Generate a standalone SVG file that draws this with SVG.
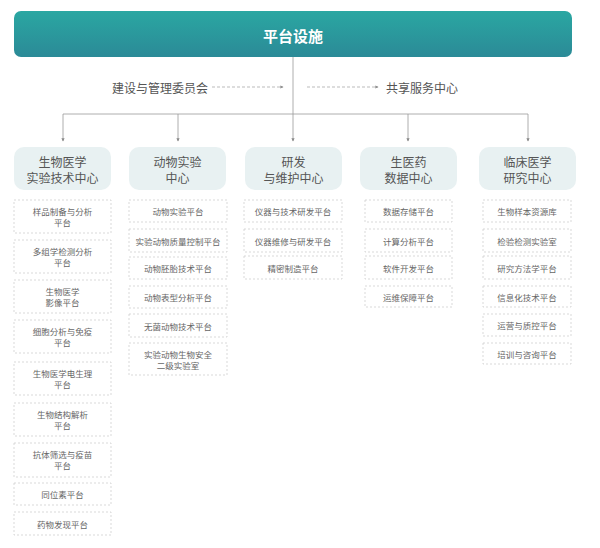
<svg xmlns="http://www.w3.org/2000/svg" width="600" height="548" viewBox="0 0 600 548">
<defs>
<linearGradient id="g" x1="0" y1="0" x2="0" y2="1">
<stop offset="0" stop-color="#2aa7a2"/>
<stop offset="1" stop-color="#2b8a97"/>
</linearGradient>
<marker id="ah" viewBox="0 0 6 6" refX="5" refY="3" markerWidth="4" markerHeight="4" orient="auto">
<path d="M0,0 L6,3 L0,6 z" fill="#888"/>
</marker>
</defs>
<style>
text{font-family:"Noto Sans CJK SC","Noto Sans",sans-serif;text-anchor:middle;dominant-baseline:central}
.title{fill:#fff;font-size:15px;font-weight:bold}
.side{fill:#555;font-size:12px}
.hd rect{fill:#e8f1f2;stroke:none}
.hd text{fill:#555;font-size:12px}
.sub rect{fill:#fff;stroke:#cfcfcf;stroke-width:0.8;stroke-dasharray:2 2}
.sub text{fill:#666;font-size:8.5px}
.ln{fill:none;stroke:#999;stroke-width:0.8}
.dl{fill:none;stroke:#aaa;stroke-width:0.8;stroke-dasharray:3 2}
</style>
<rect width="600" height="548" fill="#fff"/>
<g id="root"><rect x="14" y="11" width="558" height="46" rx="7" fill="url(#g)"/><text class="title" x="293" y="35">平台设施</text></g>
<g id="committee"><text class="side" x="160" y="87">建设与管理委员会</text></g>
<g id="shared"><text class="side" x="422" y="87">共享服务中心</text></g>
<g id="connectors">
<path class="ln" d="M293,57 V114 M63,114 H528"/>
<path class="ln" d="M63,114 V141" marker-end="url(#ah)"/>
<path class="ln" d="M178,114 V141" marker-end="url(#ah)"/>
<path class="ln" d="M293,114 V141" marker-end="url(#ah)"/>
<path class="ln" d="M408,114 V141" marker-end="url(#ah)"/>
<path class="ln" d="M528,114 V141" marker-end="url(#ah)"/>
<path class="dl" d="M212,87 H283" marker-end="url(#ah)"/>
<path class="dl" d="M307,87 H378" marker-end="url(#ah)"/>
</g>
<g id="h1" class="hd"><rect x="14" y="147" width="97" height="43" rx="10"/><text x="62.5" y="161">生物医学</text><text x="62.5" y="177">实验技术中心</text></g>
<g id="h2" class="hd"><rect x="129" y="147" width="97" height="43" rx="10"/><text x="177.5" y="161">动物实验</text><text x="177.5" y="177">中心</text></g>
<g id="h3" class="hd"><rect x="245" y="147" width="97" height="43" rx="10"/><text x="293.5" y="161">研发</text><text x="293.5" y="177">与维护中心</text></g>
<g id="h4" class="hd"><rect x="360" y="147" width="97" height="43" rx="10"/><text x="408.5" y="161">生医药</text><text x="408.5" y="177">数据中心</text></g>
<g id="h5" class="hd"><rect x="479" y="147" width="97" height="43" rx="10"/><text x="527.5" y="161">临床医学</text><text x="527.5" y="177">研究中心</text></g>

<g id="c1a" class="sub"><rect x="14" y="200" width="97" height="33"/><text x="62.5" y="211">样品制备与分析</text><text x="62.5" y="222">平台</text></g>
<g id="c1b" class="sub"><rect x="14" y="240" width="97" height="33"/><text x="62.5" y="251">多组学检测分析</text><text x="62.5" y="262">平台</text></g>
<g id="c1c" class="sub"><rect x="14" y="280" width="97" height="33"/><text x="62.5" y="291">生物医学</text><text x="62.5" y="302">影像平台</text></g>
<g id="c1d" class="sub"><rect x="14" y="320" width="97" height="33"/><text x="62.5" y="331">细胞分析与免疫</text><text x="62.5" y="342">平台</text></g>
<g id="c1e" class="sub"><rect x="14" y="362" width="97" height="33"/><text x="62.5" y="373">生物医学电生理</text><text x="62.5" y="384">平台</text></g>
<g id="c1f" class="sub"><rect x="14" y="403" width="97" height="33"/><text x="62.5" y="414">生物结构解析</text><text x="62.5" y="425">平台</text></g>
<g id="c1g" class="sub"><rect x="14" y="443" width="97" height="34"/><text x="62.5" y="454">抗体筛选与疫苗</text><text x="62.5" y="465">平台</text></g>
<g id="c1h" class="sub"><rect x="14" y="483" width="97" height="22"/><text x="62.5" y="494">同位素平台</text></g>
<g id="c1i" class="sub"><rect x="14" y="512" width="97" height="23"/><text x="62.5" y="523.5">药物发现平台</text></g>

<g id="c2a" class="sub"><rect x="129" y="200" width="98" height="22"/><text x="178" y="211">动物实验平台</text></g>
<g id="c2b" class="sub"><rect x="129" y="229" width="98" height="23"/><text x="178" y="240.5">实验动物质量控制平台</text></g>
<g id="c2c" class="sub"><rect x="129" y="257" width="98" height="22"/><text x="178" y="268">动物胚胎技术平台</text></g>
<g id="c2d" class="sub"><rect x="129" y="286" width="98" height="22"/><text x="178" y="297">动物表型分析平台</text></g>
<g id="c2e" class="sub"><rect x="129" y="314" width="98" height="23"/><text x="178" y="325.5">无菌动物技术平台</text></g>
<g id="c2f" class="sub"><rect x="129" y="343" width="98" height="32"/><text x="178" y="354">实验动物生物安全</text><text x="178" y="365">二级实验室</text></g>

<g id="c3a" class="sub"><rect x="244" y="200" width="98" height="22"/><text x="293" y="211">仪器与技术研发平台</text></g>
<g id="c3b" class="sub"><rect x="244" y="229" width="98" height="23"/><text x="293" y="240.5">仪器维修与研发平台</text></g>
<g id="c3c" class="sub"><rect x="244" y="256" width="98" height="23"/><text x="293" y="267.5">精密制造平台</text></g>

<g id="c4a" class="sub"><rect x="365" y="200" width="87" height="22"/><text x="408.5" y="211">数据存储平台</text></g>
<g id="c4b" class="sub"><rect x="365" y="229" width="87" height="23"/><text x="408.5" y="240.5">计算分析平台</text></g>
<g id="c4c" class="sub"><rect x="365" y="256" width="87" height="23"/><text x="408.5" y="267.5">软件开发平台</text></g>
<g id="c4d" class="sub"><rect x="365" y="286" width="87" height="21"/><text x="408.5" y="296.5">运维保障平台</text></g>

<g id="c5a" class="sub"><rect x="483" y="200" width="88" height="22"/><text x="527" y="211">生物样本资源库</text></g>
<g id="c5b" class="sub"><rect x="483" y="229" width="88" height="23"/><text x="527" y="240.5">检验检测实验室</text></g>
<g id="c5c" class="sub"><rect x="483" y="256" width="88" height="23"/><text x="527" y="267.5">研究方法学平台</text></g>
<g id="c5d" class="sub"><rect x="483" y="286" width="88" height="21"/><text x="527" y="296.5">信息化技术平台</text></g>
<g id="c5e" class="sub"><rect x="483" y="314" width="88" height="22"/><text x="527" y="325">运营与质控平台</text></g>
<g id="c5f" class="sub"><rect x="483" y="343" width="88" height="21"/><text x="527" y="353.5">培训与咨询平台</text></g>
</svg>
